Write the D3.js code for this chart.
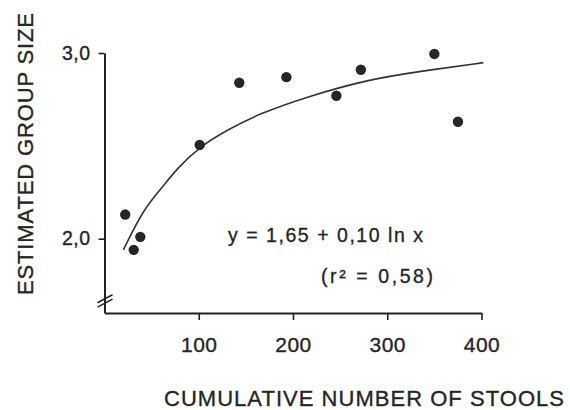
<!DOCTYPE html>
<html>
<head>
<meta charset="utf-8">
<script src="https://cdn.jsdelivr.net/npm/d3@7"></script>
<style>
    body { margin: 0; background: #fff; }
    text { font-family: "Liberation Sans", Arial, Helvetica, sans-serif; fill: #262626; stroke: #262626; stroke-width: 0.35px; }
</style>
</head>
<body>
<div id="chart"></div>
<script>
// observed points (cumulative stools, estimated group size)
let stools = [22, 31, 38, 101, 143, 193, 246, 272, 350, 375];
let groupSize = [2.13, 1.94, 2.01, 2.505, 2.84, 2.87, 2.77, 2.91, 2.995, 2.63];

// fitted curve as drawn in the figure
let curveX = [20, 41, 59, 77, 101, 130, 165, 215, 278, 331, 402];
let curveY = [1.94, 2.155, 2.262, 2.379, 2.495, 2.585, 2.675, 2.765, 2.855, 2.899, 2.948];

let xTicks = [100, 200, 300, 400];
let yTicks = [2, 3];
let axisBreak = 1.665;

let width = 570;
let height = 410;

let svg = d3.select("#chart")
    .append("svg")
    .attr("width", width)
    .attr("height", height);

let x = d3.scaleLinear()
    .domain([0, 400])
    .range([104.5, 481.5]);

let y = d3.scaleLinear()
    .domain([1.6, 3.0])
    .range([313, 53]);

let xAxis = d3.axisBottom()
    .scale(x)
    .tickValues(xTicks)
    .tickSize(7)
    .tickSizeOuter(0)
    .tickPadding(17);

let yAxis = d3.axisLeft()
    .scale(y)
    .tickValues(yTicks)
    .tickSize(6)
    .tickSizeOuter(0)
    .tickPadding(8)
    .tickFormat(d => d3.format(".1f")(d).replace(".", ","));

let gx = svg.append("g")
    .attr("transform", "translate(0," + y(1.6) + ")")
    .call(xAxis);

let gy = svg.append("g")
    .attr("transform", "translate(" + x(0) + ",0)")
    .call(yAxis);

[gx, gy].forEach(g => {
    g.select(".domain").attr("stroke", "#222").attr("stroke-width", 2);
    g.selectAll(".tick line").attr("stroke", "#222").attr("stroke-width", 1.6);
    g.selectAll(".tick text")
        .attr("fill", "#262626")
        .style("font-family", "'Liberation Sans', Arial, sans-serif")
        .style("letter-spacing", "0.5px");
});
gx.selectAll(".tick text").style("font-size", "21px");
gy.selectAll(".tick text").style("font-size", "19.5px");

// axis break marks
[-2.2, 2.2].forEach(off => {
    svg.append("line")
        .attr("x1", x(0) - 7)
        .attr("y1", y(axisBreak) + off + 4)
        .attr("x2", x(0) + 8)
        .attr("y2", y(axisBreak) + off - 4)
        .attr("stroke", "#222")
        .attr("stroke-width", 1.6);
});

let line = d3.line()
    .x(d => x(d[0]))
    .y(d => y(d[1]))
    .curve(d3.curveBasis);

svg.append("path")
    .datum(d3.zip(curveX, curveY))
    .attr("d", line)
    .attr("fill", "none")
    .attr("stroke", "#333")
    .attr("stroke-width", 1.6);

svg.selectAll("circle")
    .data(d3.zip(stools, groupSize))
    .enter()
    .append("circle")
    .attr("cx", d => x(d[0]))
    .attr("cy", d => y(d[1]))
    .attr("r", 5.2)
    .attr("fill", "#262626");

svg.append("text")
    .text("y = 1,65 + 0,10  ln  x")
    .attr("x", 228)
    .attr("y", 242)
    .attr("textLength", 195)
    .attr("lengthAdjust", "spacing")
    .style("font-size", "19.5px");

svg.append("text")
    .text("(r² = 0,58)")
    .attr("x", 321)
    .attr("y", 283)
    .attr("textLength", 112)
    .attr("lengthAdjust", "spacing")
    .style("font-size", "19.5px");

svg.append("text")
    .text("CUMULATIVE  NUMBER  OF  STOOLS")
    .attr("x", 164)
    .attr("y", 406)
    .attr("textLength", 400)
    .attr("lengthAdjust", "spacing")
    .style("font-size", "22px");

svg.append("text")
    .text("ESTIMATED  GROUP  SIZE")
    .attr("transform", "translate(33,295) rotate(-90)")
    .attr("x", 0)
    .attr("y", 0)
    .attr("textLength", 282)
    .attr("lengthAdjust", "spacing")
    .style("font-size", "22px");
</script>
</body>
</html>
